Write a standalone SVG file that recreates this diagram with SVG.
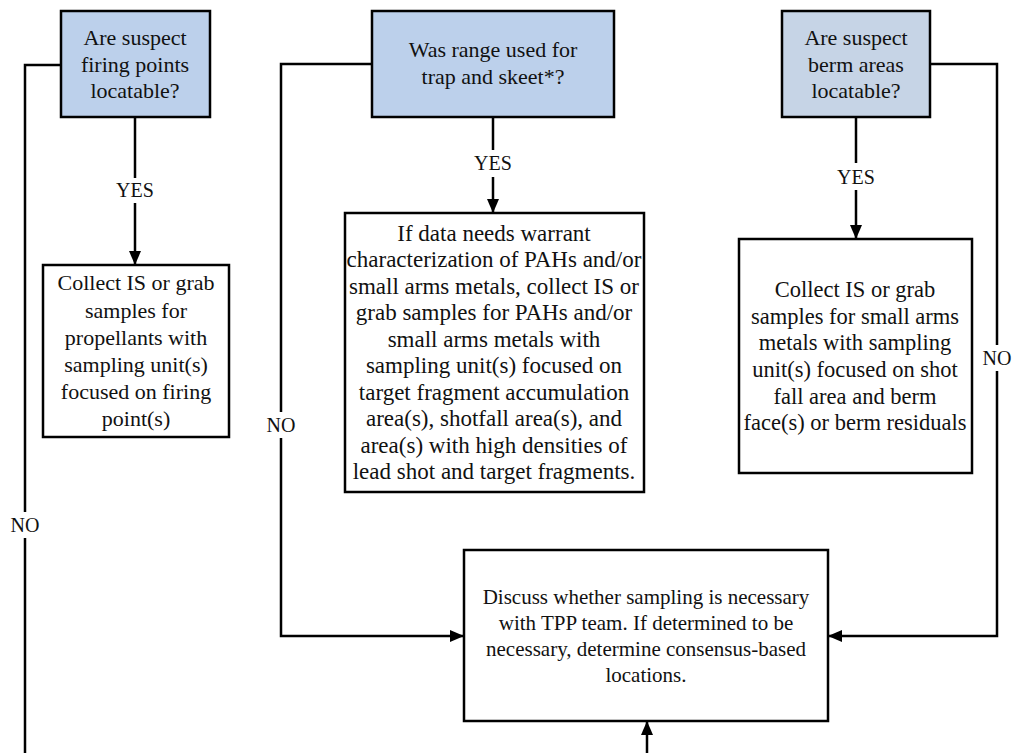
<svg xmlns="http://www.w3.org/2000/svg" width="1012" height="753" viewBox="0 0 1012 753">
<defs>
<marker id="ah" viewBox="0 0 14 12" refX="14" refY="6" markerWidth="14" markerHeight="12" markerUnits="userSpaceOnUse" orient="auto">
<path d="M0,0 L14,6 L0,12 z" fill="#000"/>
</marker>
<style>
.q{fill:#bcd0eb;stroke:#000;stroke-width:2.5}
.q2{fill:#c6d4e6;stroke:#000;stroke-width:2.5}
.b{fill:#fff;stroke:#000;stroke-width:2.5}
.t{font-family:"Liberation Serif","Times New Roman",serif;font-size:20px;fill:#111;text-anchor:middle}
.s22{font-size:22px}
.s225{font-size:22.5px}
.s23{font-size:23px}
.s21{font-size:21px}
.c{fill:none;stroke:#000;stroke-width:2.5}
.a{fill:none;stroke:#000;stroke-width:2.5;marker-end:url(#ah)}
</style>
</defs>
<rect width="1012" height="753" fill="#fff"/>
<g id="connectors">
<polyline class="c" points="61,65 25,65 25,512"/>
<line class="c" x1="25" y1="538" x2="25" y2="753"/>
<line class="c" x1="135" y1="117" x2="135" y2="178"/>
<line class="a" x1="135" y1="203" x2="135" y2="265"/>
<line class="c" x1="493" y1="117" x2="493" y2="150"/>
<line class="a" x1="493" y1="177" x2="493" y2="213"/>
<line class="c" x1="856" y1="117" x2="856" y2="163"/>
<line class="a" x1="856" y1="190" x2="856" y2="239"/>
<polyline class="c" points="372,64 281,64 281,412"/>
<polyline class="a" points="281,438 281,636 464,636"/>
<polyline class="c" points="930,64 997,64 997,345"/>
<polyline class="a" points="997,371 997,636 828,636"/>
<line class="a" x1="647" y1="753" x2="647" y2="721"/>
<text class="t" x="25" y="532">NO</text>
<text class="t" x="135" y="197">YES</text>
<text class="t" x="493" y="170">YES</text>
<text class="t" x="856" y="184">YES</text>
<text class="t" x="281" y="432">NO</text>
<text class="t" x="997" y="365">NO</text>
</g>
<g id="q1" class="t s22">
<rect class="q" x="61" y="11" width="149" height="106"/>
<text x="135" y="45">Are suspect</text>
<text x="135" y="72">firing points</text>
<text x="135" y="98">locatable?</text>
</g>
<g id="q2" class="t s22">
<rect class="q" x="372" y="11" width="242" height="106"/>
<text x="493" y="57">Was range used for</text>
<text x="493" y="84">trap and skeet*?</text>
</g>
<g id="q3" class="t s22">
<rect class="q2" x="782" y="11" width="148" height="106"/>
<text x="856" y="45">Are suspect</text>
<text x="856" y="72">berm areas</text>
<text x="856" y="98">locatable?</text>
</g>
<g id="a1" class="t s22">
<rect class="b" x="43" y="265" width="186" height="172"/>
<text x="136" y="290">Collect IS or grab</text>
<text x="136" y="318">samples for</text>
<text x="136" y="345">propellants with</text>
<text x="136" y="372">sampling unit(s)</text>
<text x="136" y="399">focused on firing</text>
<text x="136" y="426">point(s)</text>
</g>
<g id="a2" class="t s23">
<rect class="b" x="345" y="213" width="299" height="279"/>
<text x="494" y="241">If data needs warrant</text>
<text x="494" y="267">characterization of PAHs and/or</text>
<text x="494" y="294">small arms metals, collect IS or</text>
<text x="494" y="320">grab samples for PAHs and/or</text>
<text x="494" y="347">small arms metals with</text>
<text x="494" y="373">sampling unit(s) focused on</text>
<text x="494" y="400">target fragment accumulation</text>
<text x="494" y="426">area(s), shotfall area(s), and</text>
<text x="494" y="453">area(s) with high densities of</text>
<text x="494" y="479">lead shot and target fragments.</text>
</g>
<g id="a3" class="t s225">
<rect class="b" x="739" y="239" width="233" height="234"/>
<text x="855" y="297">Collect IS or grab</text>
<text x="855" y="324">samples for small arms</text>
<text x="855" y="350">metals with sampling</text>
<text x="855" y="377">unit(s) focused on shot</text>
<text x="855" y="404">fall area and berm</text>
<text x="855" y="430">face(s) or berm residuals</text>
</g>
<g id="d1" class="t s21">
<rect class="b" x="464" y="550" width="364" height="171"/>
<text x="646" y="604">Discuss whether sampling is necessary</text>
<text x="646" y="630">with TPP team. If determined to be</text>
<text x="646" y="656">necessary, determine consensus-based</text>
<text x="646" y="682">locations.</text>
</g>
</svg>
